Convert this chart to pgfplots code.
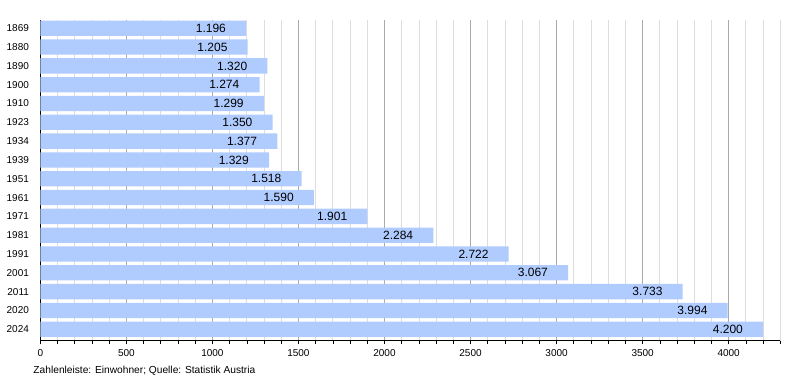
\documentclass[border=0pt]{standalone}
\usepackage{fontspec}
\setmainfont{Liberation Sans}
\usepackage{pgfplots}
\usepackage{pgfplotstable}
\pgfplotsset{compat=1.18}
\definecolor{barblue}{RGB}{176,204,255}
\definecolor{majgrid}{RGB}{170,170,170}
\definecolor{mingrid}{RGB}{221,221,221}
\pgfplotstableread{
y  x    lab
16 1196 1.196
15 1205 1.205
14 1320 1.320
13 1274 1.274
12 1299 1.299
11 1350 1.350
10 1377 1.377
9  1329 1.329
8  1518 1.518
7  1590 1.590
6  1901 1.901
5  2284 2.284
4  2722 2.722
3  3067 3.067
2  3733 3.733
1  3994 3.994
0  4200 4.200
}\datatable
\begin{document}
\begin{tikzpicture}
\useasboundingbox (-40.3pt,-39.3pt) rectangle (759.7pt,340.7pt);
\begin{axis}[
  scale only axis,
  width=740pt, height=320.7pt,
  xmin=0, xmax=4300,
  ymin=-0.61, ymax=16.44,
  axis x line*=bottom, axis y line*=left,
  axis line style={black, line width=0.8pt},
  xtick={0,500,...,4000},
  minor xtick={0,100,...,4300},
  xmajorgrids, xminorgrids,
  major grid style={majgrid, line width=0.8pt},
  minor grid style={mingrid, line width=0.8pt},
  tick align=outside,
  major tick length=3.5pt, minor tick length=3.5pt,
  x tick style={black, line width=0.6pt},
  ytick={0,...,16},
  yticklabels={2024,2020,2011,2001,1991,1981,1971,1961,1951,1939,1934,1923,1910,1900,1890,1880,1869},
  y tick style={draw=none},
  yticklabel style={font=\fontsize{10}{11}\selectfont, inner sep=0pt, anchor=east, xshift=-7.7pt},
  xticklabel style={font=\fontsize{10}{11}\selectfont, inner sep=0pt, anchor=north, yshift=-5pt},
  /pgf/number format/assume math mode=true,
  /pgf/number format/1000 sep={},
  xbar, bar shift=0pt, bar width=15.3pt,
  point meta=explicit symbolic,
  nodes near coords,
  every node near coord/.append style={anchor=east, xshift=-20pt, inner sep=0pt, font=\fontsize{12}{14}\selectfont, black},
  clip=false,
]
\addplot[fill=barblue, draw=none] table[x=x, y=y, meta=lab]{\datatable};
\end{axis}
\node[anchor=base west, inner sep=0pt, font=\fontsize{10.2}{12}\selectfont] at (-7pt,-32.3pt) {Zahlenleiste: Einwohner; Quelle: Statistik Austria};
\end{tikzpicture}
\end{document}
